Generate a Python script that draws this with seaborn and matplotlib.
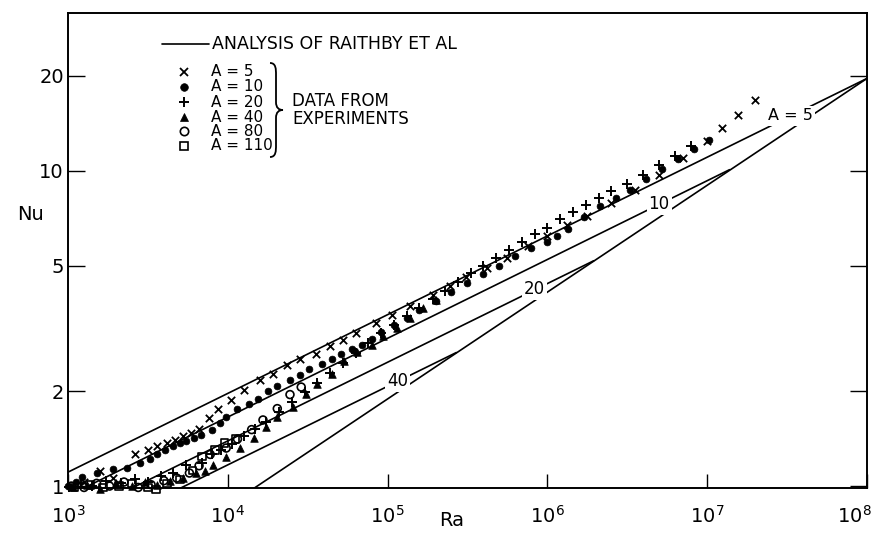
import numpy as np
import pandas as pd
import matplotlib
matplotlib.use("Agg")
import matplotlib.pyplot as plt
import matplotlib.transforms as mtransforms
import seaborn as sns
from matplotlib.path import Path
from matplotlib.patches import PathPatch
from matplotlib.lines import Line2D
from matplotlib.ticker import NullLocator

ra_a5 = [1.05e3, 1.26e3, 1.58e3, 1.91e3, 2.63e3, 3.16e3, 3.63e3, 4.17e3, 4.68e3, 5.25e3, 5.89e3, 6.61e3, 7.59e3, 8.71e3,
         1.05e4, 1.26e4, 1.58e4, 1.91e4, 2.34e4, 2.82e4, 3.55e4, 4.37e4, 5.25e4, 6.31e4, 8.51e4,
         1.07e5, 1.38e5, 1.91e5, 2.45e5, 3.09e5, 4.17e5, 5.62e5, 7.59e5,
         1.00e6, 1.32e6, 1.78e6, 2.51e6, 3.55e6, 5.01e6, 7.08e6,
         1.00e7, 1.23e7, 1.55e7, 2.00e7]
nu_a5 = [1.00, 1.03, 1.12, 1.06, 1.26, 1.30, 1.34, 1.37, 1.40, 1.44, 1.47, 1.52, 1.64, 1.76,
         1.88, 2.02, 2.17, 2.26, 2.42, 2.53, 2.62, 2.77, 2.90, 3.05, 3.28,
         3.48, 3.71, 4.02, 4.31, 4.61, 4.92, 5.30, 5.75,
         6.20, 6.70, 7.20, 7.90, 8.70, 9.70, 11.0,
         12.4, 13.6, 15.0, 16.8]

ra_a10 = [1.00e3, 1.12e3, 1.23e3, 1.51e3, 1.91e3, 2.34e3, 2.82e3, 3.24e3, 3.63e3, 4.07e3, 4.57e3, 5.01e3, 5.50e3, 6.17e3, 6.76e3, 7.94e3, 8.91e3,
          9.77e3, 1.15e4, 1.35e4, 1.55e4, 1.78e4, 2.04e4, 2.45e4, 2.82e4, 3.24e4, 3.89e4, 4.47e4, 5.13e4, 6.03e4, 6.92e4, 7.94e4, 9.12e4,
          1.10e5, 1.32e5, 1.58e5, 2.00e5, 2.51e5, 3.16e5, 3.98e5, 5.01e5, 6.31e5, 7.94e5,
          1.00e6, 1.15e6, 1.35e6, 1.70e6, 2.14e6, 2.69e6, 3.31e6, 4.17e6, 5.25e6, 6.61e6, 8.32e6,
          1.02e7]
nu_a10 = [1.00, 1.03, 1.07, 1.10, 1.13, 1.14, 1.18, 1.22, 1.26, 1.30, 1.34, 1.37, 1.39, 1.42, 1.45, 1.51, 1.58,
          1.65, 1.75, 1.82, 1.89, 2.00, 2.08, 2.17, 2.25, 2.35, 2.44, 2.53, 2.62, 2.72, 2.81, 2.92, 3.08,
          3.25, 3.42, 3.62, 3.85, 4.12, 4.40, 4.70, 5.00, 5.35, 5.70,
          5.95, 6.20, 6.55, 7.15, 7.70, 8.20, 8.70, 9.40, 10.1, 10.9, 11.7,
          12.5]

ra_a20 = [1.02e3, 1.20e3, 1.41e3, 1.74e3, 2.14e3, 2.63e3, 3.16e3, 3.80e3, 4.57e3, 5.50e3, 6.92e3, 7.94e3, 9.12e3,
          1.07e4, 1.26e4, 1.48e4, 1.74e4, 2.09e4, 2.51e4, 3.02e4, 3.63e4, 4.37e4, 5.25e4, 6.31e4, 7.59e4, 9.12e4,
          1.10e5, 1.32e5, 1.58e5, 1.91e5, 2.29e5, 2.75e5, 3.31e5, 3.98e5, 4.79e5, 5.75e5, 6.92e5, 8.32e5,
          1.00e6, 1.20e6, 1.45e6, 1.74e6, 2.09e6, 2.51e6, 3.16e6, 3.98e6, 5.01e6, 6.31e6, 7.94e6]
nu_a20 = [0.99, 1.02, 1.00, 1.04, 1.02, 1.05, 1.03, 1.08, 1.10, 1.17, 1.18, 1.26, 1.30,
          1.36, 1.44, 1.52, 1.60, 1.72, 1.85, 1.98, 2.12, 2.28, 2.45, 2.65, 2.85, 3.05,
          3.25, 3.45, 3.68, 3.92, 4.15, 4.42, 4.72, 5.00, 5.30, 5.62, 5.95, 6.30,
          6.60, 7.00, 7.40, 7.80, 8.20, 8.60, 9.10, 9.70, 10.4, 11.1, 12.0]

ra_a40 = [1.07e3, 1.32e3, 1.58e3, 2.00e3, 2.51e3, 3.02e3, 3.63e3, 4.37e3, 5.25e3, 6.31e3, 7.24e3, 8.13e3, 9.77e3,
          1.20e4, 1.45e4, 1.74e4, 2.04e4, 2.57e4, 3.09e4, 3.63e4, 4.47e4, 5.37e4, 6.46e4, 7.94e4, 9.33e4,
          1.15e5, 1.38e5, 1.66e5, 2.00e5]
nu_a40 = [0.99, 1.01, 0.98, 1.02, 1.00, 1.03, 1.01, 1.04, 1.06, 1.10, 1.12, 1.17, 1.24,
          1.32, 1.42, 1.54, 1.66, 1.78, 1.96, 2.10, 2.27, 2.50, 2.66, 2.81, 3.00,
          3.18, 3.42, 3.68, 3.88]

ra_a80 = [1.05e3, 1.26e3, 1.51e3, 1.82e3, 2.24e3, 2.75e3, 3.31e3, 3.98e3, 4.79e3, 5.75e3, 6.61e3, 7.76e3, 9.77e3,
          1.15e4, 1.41e4, 1.66e4, 2.04e4, 2.45e4, 2.88e4]
nu_a80 = [1.00, 0.99, 1.02, 1.00, 1.03, 0.99, 1.01, 1.04, 1.06, 1.10, 1.16, 1.26, 1.32,
          1.41, 1.51, 1.62, 1.76, 1.95, 2.06]

ra_a110 = [1.10e3, 1.38e3, 1.66e3, 2.09e3, 2.51e3, 3.16e3, 3.55e3, 4.17e3, 5.01e3, 6.03e3, 6.92e3, 8.32e3, 9.55e3, 1.12e4]
nu_a110 = [0.99, 1.01, 0.99, 1.00, 1.02, 0.99, 0.975, 1.02, 1.05, 1.12, 1.24, 1.30, 1.37, 1.41]

# ---------------- analysis of Raithby et al (curve end points) ----------------
theory_ra_a5 = [1.0e3, 1.0e8]
theory_nu_a5 = [1.107, 19.6]
theory_ra_a10 = [1.0e3, 1.38e7]
theory_nu_a10 = [0.931, 10.07]
theory_ra_a20 = [1.0e3, 1.95e6]
theory_nu_a20 = [0.783, 5.18]
theory_ra_a40 = [1.0e3, 2.69e5]
theory_nu_a40 = [0.658, 2.65]
theory_ra_turb = [1.0e4, 1.0e8]
theory_nu_turb = [0.866, 19.6]

curve_labels = ["A = 5", "10", "20", "40"]
curve_label_ra = [3.3e7, 5.0e6, 8.3e5, 1.16e5]
curve_label_nu = [14.9, 7.83, 4.20, 2.16]

legend_labels = ["A = 5", "A = 10", "A = 20", "A = 40", "A = 80", "A = 110"]
x_ticks = [1e3, 1e4, 1e5, 1e6, 1e7, 1e8]
x_tick_labels = [r"$\mathregular{10^{3}}$", r"$\mathregular{10^{4}}$", r"$\mathregular{10^{5}}$",
                 r"$\mathregular{10^{6}}$", r"$\mathregular{10^{7}}$", r"$\mathregular{10^{8}}$"]
y_ticks = [1, 2, 5, 10, 20]
y_tick_labels = ["1", "2", "5", "10", "20"]

# ---------------- drawing ----------------
sns.set_theme(style="white")
plt.rcParams['font.family'] = ['DejaVu Sans']
plt.rcParams['mathtext.fontset'] = 'dejavusans'
plt.rcParams['text.color'] = 'black'
plt.rcParams['axes.labelcolor'] = 'black'

W, H = 872, 533
fig = plt.figure(figsize=(W / 100, H / 100), dpi=100)
fig.patch.set_facecolor('white')
ax = fig.add_axes([68 / W, 1 - 488 / H, (867 - 68) / W, (488 - 13) / H])
ax.set_facecolor('white')
ax.set_xscale('log')
ax.set_yscale('log')

theory = [(theory_ra_a5, theory_nu_a5), (theory_ra_a10, theory_nu_a10),
          (theory_ra_a20, theory_nu_a20), (theory_ra_a40, theory_nu_a40),
          (theory_ra_turb, theory_nu_turb)]
for tra, tnu in theory:
    sns.lineplot(x=tra, y=tnu, ax=ax, color='black', linewidth=1.2, sort=False, estimator=None, zorder=2)

series = [
    (ra_a5, nu_a5, 'x', True, 28, 1.3),
    (ra_a10, nu_a10, 'o', True, 24, 0.5),
    (ra_a20, nu_a20, '+', True, 45, 1.4),
    (ra_a40, nu_a40, '^', True, 30, 0.5),
    (ra_a80, nu_a80, 'o', False, 32, 1.2),
    (ra_a110, nu_a110, 's', False, 30, 1.2),
]
for ra, nu, mk, filled, s, lw in series:
    df = pd.DataFrame({'Ra': ra, 'Nu': nu})
    if filled:
        sns.scatterplot(data=df, x='Ra', y='Nu', ax=ax, marker=mk, s=s, color='black',
                        edgecolor='black', linewidth=lw, clip_on=False, zorder=3)
    else:
        sns.scatterplot(data=df, x='Ra', y='Nu', ax=ax, marker=mk, s=s, color='black',
                        facecolor='none', edgecolor='black', linewidth=lw, clip_on=False, zorder=3)

for lab, lra, lnu in zip(curve_labels, curve_label_ra, curve_label_nu):
    ax.text(lra, lnu, lab, ha='center', va='center', fontsize=12 if lab != "A = 5" else 11.5,
            color='black', zorder=4, bbox=dict(facecolor='white', edgecolor='none', pad=1.5))

ax.set_xlim(1e3, 1e8)
ax.set_ylim(0.986, 31.6)
ax.set_xticks(x_ticks)
ax.set_xticklabels(x_tick_labels)
ax.set_yticks(y_ticks)
ax.set_yticklabels(y_tick_labels)
ax.xaxis.set_minor_locator(NullLocator())
ax.yaxis.set_minor_locator(NullLocator())
ax.tick_params(axis='y', which='major', direction='in', length=12, width=1.0, left=True, right=True,
               labelsize=14, pad=3, colors='black')
ax.tick_params(axis='x', which='major', direction='in', length=10, width=1.0, bottom=True, top=False,
               labelsize=14, pad=12, colors='black')
# keep the last x tick label inside the picture
last = ax.get_xticklabels()[-1]
last.set_transform(last.get_transform() + mtransforms.ScaledTranslation(-13 / 100, 0, fig.dpi_scale_trans))
for sp in ax.spines.values():
    sp.set_visible(True)
    sp.set_color('black')
    sp.set_linewidth(1.4)
ax.set_xlabel('')
ax.set_ylabel('')


def fx(px):
    return px / W


def fy(py):
    return 1 - py / H


fig.text(fx(30), fy(215), 'Nu', ha='center', va='center', fontsize=14, color='black')
fig.text(fx(452), fy(521), 'Ra', ha='center', va='center', fontsize=14, color='black')

# legend block
fig.add_artist(Line2D([fx(162), fx(209)], [fy(44), fy(44)], color='black', lw=1.2))
fig.text(fx(212), fy(44), 'ANALYSIS OF RAITHBY ET AL', ha='left', va='center', fontsize=12.5, color='black')
leg_y = [72, 87, 102, 117, 131, 146]
leg_marks = [('x', True, 6, 1.3), ('o', True, 5.5, 0.5), ('+', True, 7, 1.4),
             ('^', True, 6, 0.5), ('o', False, 6, 1.2), ('s', False, 6, 1.2)]
for yy, lab, (mk, filled, ms, lw) in zip(leg_y, legend_labels, leg_marks):
    fig.add_artist(Line2D([fx(184)], [fy(yy)], marker=mk, markersize=ms, markeredgewidth=lw,
                          color='black', markerfacecolor='black' if filled else 'none',
                          markeredgecolor='black', linestyle='none'))
    fig.text(fx(211), fy(yy), lab, ha='left', va='center', fontsize=11, color='black')

# brace
bx = 276
verts = [(fx(bx - 6), fy(63)), (fx(bx), fy(63)), (fx(bx), fy(69)), (fx(bx), fy(75)),
         (fx(bx), fy(102)),
         (fx(bx), fy(108)), (fx(bx + 3), fy(110)), (fx(bx + 7), fy(110)),
         (fx(bx + 3), fy(110)), (fx(bx), fy(112)), (fx(bx), fy(118)),
         (fx(bx), fy(145)),
         (fx(bx), fy(151)), (fx(bx), fy(157)), (fx(bx - 6), fy(157))]
codes = [Path.MOVETO, Path.CURVE4, Path.CURVE4, Path.CURVE4,
         Path.LINETO,
         Path.CURVE4, Path.CURVE4, Path.CURVE4,
         Path.CURVE4, Path.CURVE4, Path.CURVE4,
         Path.LINETO,
         Path.CURVE4, Path.CURVE4, Path.CURVE4]
brace = PathPatch(Path(verts, codes), facecolor='none', edgecolor='black', lw=1.3,
                  transform=fig.transFigure)
fig.add_artist(brace)
fig.text(fx(292), fy(110), 'DATA FROM\nEXPERIMENTS', ha='left', va='center', fontsize=12,
         linespacing=0.95, color='black')

fig.savefig('out.png', dpi=100, facecolor='white')
